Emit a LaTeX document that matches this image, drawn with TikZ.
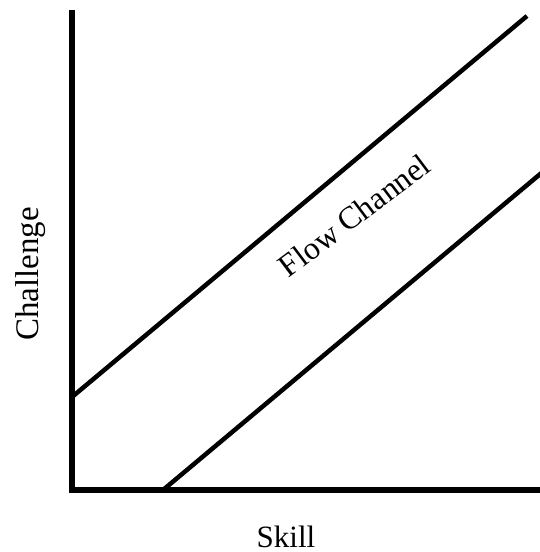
\documentclass[tikz,border=0pt]{standalone}
\usepackage{fontspec}
\setmainfont{Liberation Serif}
\begin{document}
\begin{tikzpicture}[x=1pt,y=1pt,
  axis/.style={line width=5.5pt},
  bound/.style={line width=4.5pt},
  lbl/.style={inner sep=0pt, anchor=base}]
\useasboundingbox (0,0) rectangle (540,552);
\coordinate (top) at (72,542);
\coordinate (origin) at (72,62);
\coordinate (right) at (540,62);
\coordinate (u1) at (72,155);
\coordinate (u2) at (527,536);
\coordinate (l1) at (163,62);
\coordinate (l2) at (545,382);
\draw[axis] (top) -- (origin) -- (right);
\draw[bound] (u1) -- (u2);
\draw[bound] (l1) -- (l2);
\node[lbl, rotate=90, font=\fontsize{33}{38}\selectfont] (challenge) at (38,278) {Challenge};
\node[lbl, font=\fontsize{31}{36}\selectfont] (skill) at (286,5) {Skill};
\node[lbl, rotate=37, font=\fontsize{32}{36}\selectfont] (flow) at (361,328) {Flow Channel};
\end{tikzpicture}
\end{document}
